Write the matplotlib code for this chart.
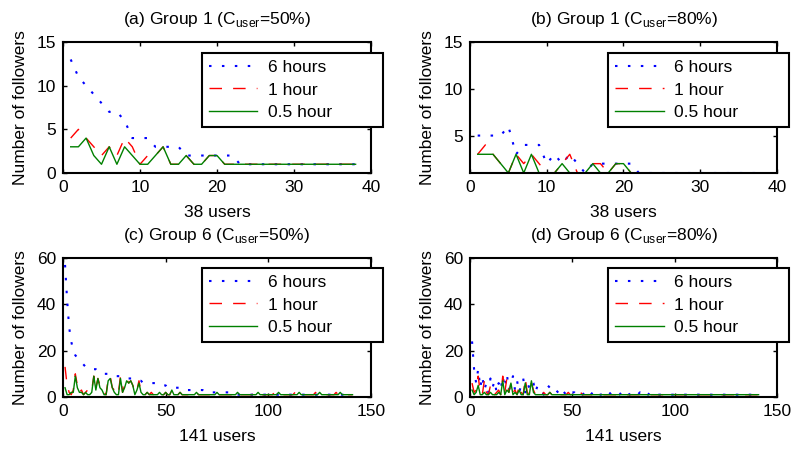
import numpy as np
import matplotlib
matplotlib.use("Agg")
import matplotlib.pyplot as plt

plt.rcParams["font.family"] = ["Liberation Sans", "DejaVu Sans"]
plt.rcParams["mathtext.fontset"] = "custom"
plt.rcParams["mathtext.rm"] = "Liberation Sans"
plt.rcParams["font.size"] = 12.5

# ---- group 1, 38 users ----
users_g1 = np.arange(1, 39)
six_a = [13, 11, 10, 9, 8, 7, 7, 6, 4, 4, 4, 3, 3, 3, 3, 2, 2, 2, 2, 2, 2, 2] + [1] * 16
one_a = [4, 5, 4, 3, 2, 3, 2, 4, 3, 1, 2, 2, 3, 1, 1, 2, 1, 1, 2, 2] + [1] * 18
half_a = [3, 3, 4, 2, 1, 3, 1, 3, 2, 1, 1, 2, 3, 1, 1, 2, 1, 1, 2, 2] + [1] * 18

six_b = [5, 5, 5, 5, 6, 3, 4, 4, 4, 2, 3, 2, 3, 2, 1, 2, 2, 2, 2, 2, 2, 1] + [1] * 16
one_b = [3, 4, 3, 2, 1, 3, 2, 3, 2, 1, 1, 2, 3, 1, 1, 2, 2, 1, 2, 2] + [1] * 18
half_b = [3, 3, 3, 2, 1, 3, 1, 3, 1, 1, 1, 2, 1, 1, 1, 2, 1, 1, 2, 2] + [1] * 18

# ---- group 6, 141 users ----
users_g6 = np.arange(1, 142)
six_c = ([57, 42, 30, 24, 20, 18, 17, 16, 15, 14,
          13, 13, 13, 13, 12, 12, 11, 11, 10, 10,
          10, 10, 10, 9, 9, 9, 9, 9, 9, 8,
          8, 8, 8, 8, 8, 8, 7, 7, 6, 6,
          6, 6, 6, 6, 6, 5, 5, 5, 5, 5,
          4, 4, 4, 4, 4, 4, 4, 4, 4, 3,
          3, 3, 3, 3, 3, 3, 3, 3, 2, 2,
          2, 2, 2, 2, 2, 2, 2, 2, 2, 2,
          2, 2, 2, 2, 1, 1, 1, 1, 1, 1] + [1] * 51)
one_c = ([13, 5, 2, 1, 3, 10, 5, 2, 3, 1,
          2, 3, 2, 3, 9, 4, 8, 5, 4, 2,
          1, 8, 9, 4, 3, 1, 2, 9, 2, 5,
          8, 6, 7, 5, 2, 3, 7, 2, 1, 1,
          2, 1, 2, 1, 1, 1, 2, 1, 1, 2,
          1, 1, 3, 1, 1, 1, 2, 1, 1, 1,
          1, 1, 1, 1, 2, 1, 1, 1, 1, 1] + [1, 1, 2, 1, 1, 1, 1, 1, 1, 1] * 7 + [1])
half_c = ([4, 1, 1, 2, 2, 9, 4, 2, 2, 1,
           2, 1, 1, 2, 9, 3, 8, 4, 3, 1,
           1, 7, 8, 4, 2, 1, 1, 8, 2, 4,
           7, 6, 7, 5, 1, 3, 6, 2, 1, 1,
           2, 1, 1, 1, 1, 1, 2, 1, 1, 2,
           1, 1, 3, 1, 1, 1, 2, 1, 1, 1,
           1, 1, 1, 1, 2, 1, 1, 1, 1, 1] + [1, 1, 1, 1, 2, 1, 1, 1, 1, 1] * 7 + [1])

six_d = ([24, 12, 6, 12, 4, 9, 3, 6, 2, 8,
          4, 7, 2, 6, 3, 9, 4, 10, 3, 6,
          9, 3, 7, 2, 5, 8, 2, 6, 4, 7,
          6, 2, 5, 4, 3, 1, 2, 5, 4, 3,
          2, 3, 2, 1, 3, 2, 1, 2, 3, 2,
          2, 1, 2, 2, 1, 2, 1, 2, 1, 2,
          1, 2, 1, 1, 2, 1, 1, 2, 1, 1,
          2, 1, 1, 2, 1, 1, 2, 1, 1, 2,
          1, 1, 2, 1, 1, 2, 1, 2, 1, 1] + [1] * 51)
one_d = ([6, 2, 3, 9, 2, 1, 7, 2, 1, 5,
          2, 1, 2, 3, 1, 9, 2, 8, 2, 6,
          2, 3, 1, 5, 2, 1, 8, 2, 1, 6,
          3, 1, 2, 1, 1, 2, 1, 1, 2, 1,
          1, 1, 2, 1, 1, 1, 1, 2, 1, 1,
          1, 1, 1, 2, 1, 1, 1, 1, 1, 1] + [1] * 81)
half_d = ([3, 1, 2, 5, 1, 1, 2, 1, 1, 2,
           1, 1, 1, 2, 1, 7, 1, 3, 2, 6,
           1, 2, 1, 3, 1, 1, 6, 1, 1, 7,
           2, 1, 1, 1, 1, 1, 1, 1, 2, 1,
           1, 1, 1, 1, 1, 1, 1, 1, 1, 1,
           1, 1, 1, 1, 1, 1, 1, 1, 1, 1] + [1] * 81)

titles = [r"(a) Group 1 (C$_{\mathrm{user}}$=50%)",
          r"(b) Group 1 (C$_{\mathrm{user}}$=80%)",
          r"(c) Group 6 (C$_{\mathrm{user}}$=50%)",
          r"(d) Group 6 (C$_{\mathrm{user}}$=80%)"]
series_labels = ["6 hours", "1 hour", "0.5 hour"]

W, H = 793, 451
fig = plt.figure(figsize=(W / 100, H / 100), dpi=100)


def add_ax(left, top, right, bottom):
    return fig.add_axes([left / W, 1 - bottom / H, (right - left) / W, (bottom - top) / H])


# last entry: top of the legend box in axes fractions
panels = [
    (add_ax(63, 42, 371, 173), users_g1, (six_a, one_a, half_a), (0, 40), (0, 15), [0, 5, 10, 15], "38 users", 0.916),
    (add_ax(470, 42, 777, 173), users_g1, (six_b, one_b, half_b), (0, 40), (1, 15), [5, 10, 15], "38 users", 0.916),
    (add_ax(63, 258, 371, 397), users_g6, (six_c, one_c, half_c), (0, 150), (0, 60), [0, 20, 40, 60], "141 users", 0.928),
    (add_ax(470, 258, 777, 397), users_g6, (six_d, one_d, half_d), (0, 150), (0, 60), [0, 20, 40, 60], "141 users", 0.928),
]

for i, (ax, x, ys, xl, yl, yt, xlab, ltop) in enumerate(panels):
    six, one, half = ys
    ax.plot(x, six, color="blue", lw=1.5, linestyle=(0, (1.2, 5.0)), label=series_labels[0])
    ax.plot(x, one, color="red", lw=1.0, linestyle=(0, (9, 8)), label=series_labels[1])
    ax.plot(x, half, color="green", lw=1.0, label=series_labels[2])
    ax.set_xlim(*xl)
    ax.set_ylim(*yl)
    ax.set_yticks(yt)
    ax.set_title(titles[i], fontsize=12.5, pad=13)
    ax.set_xlabel(xlab, labelpad=7)
    ax.set_ylabel("Number of followers", labelpad=6)
    ax.tick_params(direction="in", length=3, width=1, top=True, right=True, pad=5)
    for s in ax.spines.values():
        s.set_linewidth(1.5)
    leg = ax.legend(loc="upper left", bbox_to_anchor=(0.451, ltop - 0.6, 0.588, 0.6),
                    mode="expand", fancybox=False, edgecolor="black", framealpha=1,
                    handlelength=2.8, handletextpad=0.6, labelspacing=0.42,
                    borderpad=0.4, borderaxespad=0.0)
    leg.get_frame().set_linewidth(1.5)

fig.savefig("out.png", dpi=100)
